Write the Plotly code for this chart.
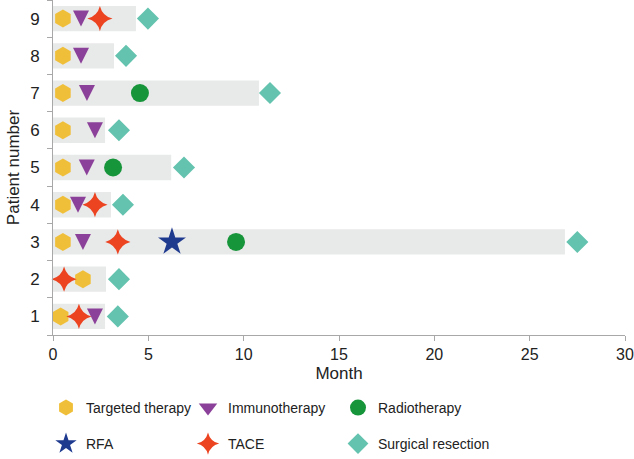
import plotly.graph_objects as go

patients = ["1", "2", "3", "4", "5", "6", "7", "8", "9"]
followup = [2.73, 2.78, 26.85, 3.04, 6.2, 2.73, 10.8, 3.2, 4.35]

targeted_pat = ["1", "2", "3", "4", "5", "6", "7", "8", "9"]
targeted_mon = [0.4, 1.57, 0.52, 0.52, 0.52, 0.52, 0.52, 0.52, 0.52]

immuno_pat = ["1", "3", "4", "5", "6", "7", "8", "9"]
immuno_mon = [2.2, 1.57, 1.31, 1.77, 2.2, 1.78, 1.47, 1.47]

radio_pat = ["3", "5", "7"]
radio_mon = [9.6, 3.15, 4.56]

rfa_pat = ["3"]
rfa_mon = [6.24]

tace_pat = ["1", "2", "3", "4", "9"]
tace_mon = [1.36, 0.58, 3.4, 2.2, 2.46]

surg_pat = ["1", "2", "3", "4", "5", "6", "7", "8", "9"]
surg_mon = [3.4, 3.46, 27.5, 3.67, 6.87, 3.46, 11.38, 3.83, 4.98]

FONT = "Liberation Sans"
L, R, T, B = 53, 9, 0, 124
W, H = 634, 459
pw = W - L - R
ph = H - T - B

fig = go.Figure()
fig.add_trace(go.Bar(x=followup, y=patients, orientation="h", base=0,
                     marker=dict(color="#e8e9e9", line=dict(width=0)),
                     width=0.68, showlegend=False, hoverinfo="skip"))

# Immunotherapy drawn with "arrow-down" glyph (tip at anchor) on an overlaid
# y axis shifted by half the glyph height so the glyph is centred on its row.
IMM_SIZE = 16
row_px = ph / len(patients)
shift = (IMM_SIZE / 2) / row_px

series = [
    ("Targeted therapy", targeted_pat, targeted_mon, "hexagon", "#f0bf3a", 18, "legend", "y"),
    ("Immunotherapy", immuno_pat, immuno_mon, "arrow-down", "#8b4199", IMM_SIZE, "legend2", "y2"),
    ("Radiotherapy", radio_pat, radio_mon, "circle", "#17953b", 18, "legend3", "y"),
    ("RFA", rfa_pat, rfa_mon, "star", "#1e3a8f", 21, "legend4", "y"),
    ("TACE", tace_pat, tace_mon, "star-diamond", "#ec4320", 18, "legend5", "y"),
    ("Surgical resection", surg_pat, surg_mon, "diamond", "#63c3ae", 17, "legend6", "y"),
]
for name, py, px, sym, col, sz, lg, ya in series:
    is_imm = name == "Immunotherapy"
    fig.add_trace(go.Scatter(x=px, y=py, mode="markers", name=name, yaxis=ya,
                             marker=dict(symbol=sym, color=col, size=sz, line=dict(width=0)),
                             legend=lg, showlegend=not is_imm, cliponaxis=False))
    if is_imm:
        fig.add_trace(go.Scatter(x=[None], y=[None], mode="markers", name=name,
                                 marker=dict(symbol="triangle-down", color=col, size=16, line=dict(width=0)),
                                 legend=lg, showlegend=True))

def lx(px):
    return (px - L) / pw

def ly(py):
    return (H - B - py) / ph

leg_pos = [(70, 408), (212, 408), (362, 408), (70, 444), (212, 444), (362, 444)]
legend_kwargs = {}
for i, (mx, my) in enumerate(leg_pos):
    key = "legend" if i == 0 else f"legend{i+1}"
    legend_kwargs[key] = dict(x=lx(mx - 24), y=ly(my), xanchor="left", yanchor="middle",
                              bgcolor="rgba(0,0,0,0)", borderwidth=0,
                              itemwidth=30,
                              font=dict(family=FONT, size=14, color="#222"),
                              itemclick=False)

axis_common = dict(showgrid=False, zeroline=False, showline=True, linecolor="#a8a8a8", linewidth=1,
                   ticks="outside", ticklen=5, tickcolor="#a8a8a8", automargin=False)

fig.update_layout(
    width=W, height=H,
    margin=dict(l=L, r=R, t=T, b=B, autoexpand=False),
    plot_bgcolor="white", paper_bgcolor="white",
    font=dict(family=FONT, color="#222"),
    xaxis=dict(range=[0, 30], tickvals=[0, 5, 10, 15, 20, 25, 30],
               tickfont=dict(size=16, family=FONT, color="#222"),
               title=dict(text="Month", font=dict(size=17, family=FONT, color="#222"), standoff=4),
               **axis_common),
    yaxis=dict(type="category", categoryorder="array", categoryarray=patients,
               range=[-0.5, 8.5], tickson="boundaries", ticklabelstandoff=9,
               tickfont=dict(size=17, family=FONT, color="#222"),
               title=dict(text="Patient number", font=dict(size=17, family=FONT, color="#222"), standoff=6),
               **axis_common),
    yaxis2=dict(type="category", categoryorder="array", categoryarray=patients,
                overlaying="y", range=[-0.5 + shift, 8.5 + shift], visible=False,
                showgrid=False, zeroline=False),
    **legend_kwargs,
)

fig.write_html("out.html", config={"displayModeBar": False},
               post_script="document.body.style.margin='0';document.body.style.overflow='hidden';")
